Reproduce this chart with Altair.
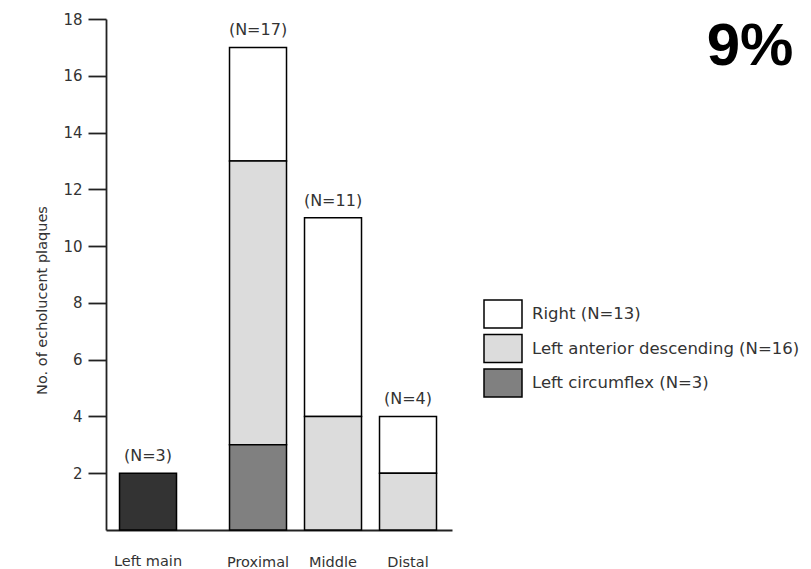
import altair as alt
import pandas as pd

# ---- data ----
categories = ["Left main", "Proximal", "Middle", "Distal"]
right_vals = [0, 4, 7, 2]
lad_vals = [0, 10, 4, 2]
lcx_vals = [0, 3, 0, 0]
left_main_vals = [2, 0, 0, 0]
n_labels = ["(N=3)", "(N=17)", "(N=11)", "(N=4)"]
series_names = ["Right (N=13)", "Left anterior descending (N=16)",
                "Left circumflex (N=3)", "Left main"]
series_colors = ["#ffffff", "#dcdcdc", "#808080", "#333333"]
stack_rank = [2, 1, 0, 0]
y_ticks = [2, 4, 6, 8, 10, 12, 14, 16, 18]
corner_text = ["9%"]

rows = []
for i, c in enumerate(categories):
    for s, vals, r in zip(series_names,
                          [right_vals, lad_vals, lcx_vals, left_main_vals],
                          stack_rank):
        if vals[i] > 0:
            rows.append({"cat": c, "series": s, "value": vals[i], "rank": r})
df = pd.DataFrame(rows)

totals = [a + b + c + d for a, b, c, d in zip(right_vals, lad_vals, lcx_vals, left_main_vals)]
df_tot = pd.DataFrame({"cat": categories, "total": totals, "label": n_labels})

FONT = "DejaVu Sans"
TXT = "#333333"
W, H = 346, 511
SHIFT = -35

xscale = alt.Scale(domain=categories, paddingInner=0.24, paddingOuter=0.4267, align=0.758)
yscale = alt.Scale(domain=[0, 18], nice=False, zero=True)

x_enc = alt.X("cat:N", scale=xscale, sort=categories, title=None,
              axis=alt.Axis(ticks=False, labelPadding=25, labelAngle=0,
                            labelExpr="datum.label == 'Left main' ? '' : datum.label",
                            labelFont=FONT, labelFontSize=14.5, labelColor=TXT,
                            domainColor="#222222", domainWidth=1.8))
y_enc = alt.Y("value:Q", stack="zero", scale=yscale,
              axis=alt.Axis(values=y_ticks, tickSize=18, tickWidth=1.8, tickColor="#222222",
                            domainColor="#222222", domainWidth=1.8, grid=False,
                            labelPadding=6, labelFont=FONT, labelFontSize=15, labelColor=TXT,
                            title="No. of echolucent plaques", titleFont=FONT,
                            titleFontSize=14.5, titleFontWeight="normal", titleColor=TXT,
                            titleX=-64, titleY=281, titleAlign="center",
                            titleBaseline="middle", titleAngle=270))
fill_enc = alt.Fill("series:N",
                    scale=alt.Scale(domain=series_names, range=series_colors),
                    legend=alt.Legend(values=series_names[:3], title=None, orient="none",
                                      legendX=382, legendY=280, padding=0,
                                      symbolType="M-1.357,-1H1.357V1H-1.357Z",
                                      symbolSize=784, symbolStrokeColor="black",
                                      symbolStrokeWidth=1.5, symbolOpacity=1,
                                      rowPadding=0.5, labelOffset=14,
                                      labelFont=FONT, labelFontSize=16.5,
                                      labelColor=TXT, labelLimit=400))

base = alt.Chart(df)
bars_rest = base.transform_filter("datum.cat != 'Left main'").mark_bar(
    stroke="black", strokeWidth=1.5, opacity=1
).encode(x=x_enc, y=y_enc, fill=fill_enc, order=alt.Order("rank:Q"))

bars_lm = base.transform_filter("datum.cat == 'Left main'").mark_bar(
    stroke="black", strokeWidth=1.5, opacity=1, xOffset=SHIFT, x2Offset=SHIFT
).encode(x=x_enc, y=y_enc, fill=fill_enc, order=alt.Order("rank:Q"))

tbase = alt.Chart(df_tot)
n_rest = tbase.transform_filter("datum.cat != 'Left main'").mark_text(
    font=FONT, fontSize=16, color=TXT, baseline="bottom", dy=-9
).encode(x=alt.X("cat:N", scale=xscale, sort=categories),
         y=alt.Y("total:Q", scale=yscale), text="label:N")
n_lm = tbase.transform_filter("datum.cat == 'Left main'").mark_text(
    font=FONT, fontSize=16, color=TXT, baseline="bottom", dy=-9, xOffset=SHIFT
).encode(x=alt.X("cat:N", scale=xscale, sort=categories),
         y=alt.Y("total:Q", scale=yscale), text="label:N")

lm_label = tbase.transform_filter("datum.cat == 'Left main'").mark_text(
    font=FONT, fontSize=14.5, color=TXT, baseline="top", xOffset=SHIFT
).encode(x=alt.X("cat:N", scale=xscale, sort=categories),
         y=alt.value(H + 25), text="cat:N")

corner = alt.Chart(pd.DataFrame({"t": corner_text})).mark_text(
    font="Liberation Sans", fontSize=60, fontWeight="bold", color="black",
    align="center", baseline="alphabetic"
).encode(x=alt.value(644), y=alt.value(46), text="t:N")

chart = alt.layer(bars_rest, bars_lm, n_rest, n_lm, lm_label, corner).properties(
    width=W, height=H,
    autosize=alt.AutoSizeParams(type="none"),
    padding={"left": 98, "top": 11, "right": 351, "bottom": 38},
).configure_view(stroke=None)

chart.save("out.html", embed_options={"renderer": "svg", "actions": False})
